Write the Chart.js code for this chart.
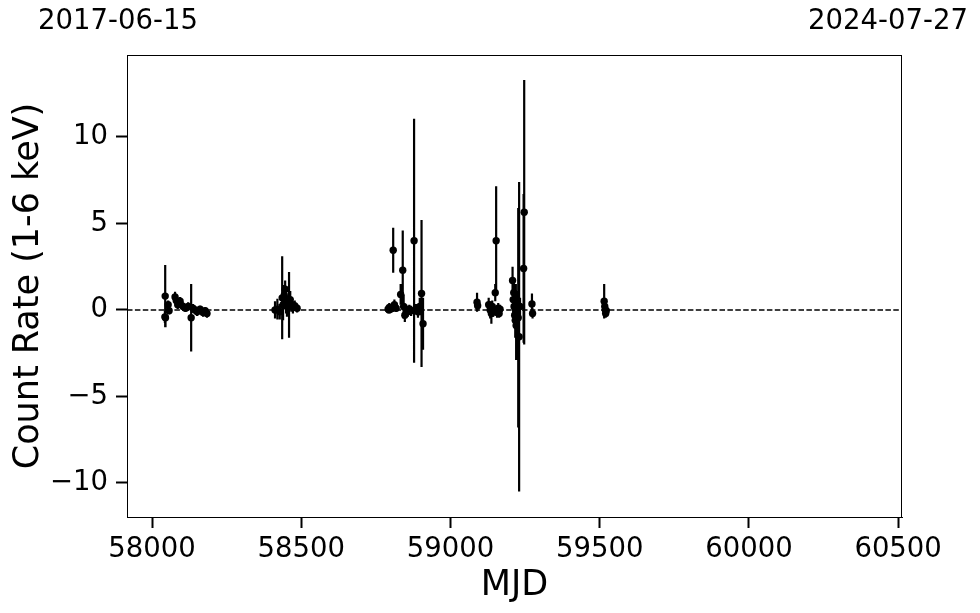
<!DOCTYPE html>
<html>
<head>
<meta charset="utf-8">
<script src="https://cdn.jsdelivr.net/npm/chart.js@4"></script>
<style>body{margin:0;background:#fff}</style>
</head>
<body>
<canvas id="myChart" width="980" height="613"></canvas>
<script>
// observation epochs (MJD), count rates and 1-sigma errors
const mjd = [
  58043, 58044, 58045, 58054, 58057, 58077, 58081, 58086, 58094, 58104, 58112, 58121, 58131,
  58137, 58144, 58151, 58161, 58171, 58178, 58184,
  58412, 58420, 58428, 58436, 58439, 58443, 58446, 58449, 58452, 58459, 58463, 58467, 58472, 58478, 58486,
  58791, 58794, 58795, 58800, 58805, 58808, 58812, 58818, 58833, 58840, 58843, 58847, 58852, 58857,
  58862, 58868, 58878, 58884, 58891, 58897, 58903, 58908,
  59089, 59091, 59128, 59133, 59137, 59140, 59143, 59146, 59150, 59153, 59156, 59160, 59163, 59166,
  59208, 59210, 59212, 59213, 59215, 59217, 59219, 59220, 59222, 59224, 59227, 59230, 59233, 59245, 59247,
  59273, 59275,
  59515, 59517, 59519, 59520, 59522
];
const rate = [
  -0.40, 0.80, -0.45, 0.30, -0.05, 0.75, 0.55, 0.30, 0.50, 0.20, 0.10, 0.20, -0.45,
  0.10, 0.00, -0.10, 0.05, -0.15, -0.05, -0.20,
  0.00, 0.05, -0.10, 0.70, 0.30, 0.85, 1.20, 0.50, 0.20, 0.30, 0.60, 0.30, 0.15, 0.25, 0.10,
  0.05, 0.00, 0.15, 0.05, 0.10, 3.45, 0.30, 0.10, 0.90, 2.30, 0.20, -0.30, 0.00, -0.10,
  0.05, -0.05, 4.00, 0.05, -0.10, 0.20, 0.95, -0.80,
  0.45, 0.25, 0.30, 0.00, -0.20, 0.20, -0.10, 0.00, 1.00, 4.00, -0.15, 0.10, -0.20, 0.05,
  1.70, 0.60, 1.00, 0.20, -0.30, -0.60, 0.00, -0.90, 0.40, -0.20, -0.45, -1.55, 0.20, 2.40, 5.65,
  0.35, -0.20,
  0.50, 0.20, 0.00, -0.20, -0.05
];
const rateErr = [
  0.35, 1.80, 0.55, 0.25, 0.20, 0.30, 0.30, 0.25, 0.25, 0.25, 0.20, 0.25, 1.95,
  0.25, 0.20, 0.25, 0.20, 0.25, 0.20, 0.25,
  0.50, 0.60, 0.45, 2.40, 0.90, 0.60, 0.50, 0.70, 0.60, 1.90, 0.50, 0.40, 0.35, 0.30, 0.25,
  0.15, 0.15, 0.25, 0.15, 0.20, 1.30, 0.30, 0.20, 0.60, 2.30, 0.70, 0.40, 0.30, 0.30,
  0.25, 0.30, 7.05, 0.30, 0.35, 0.50, 4.25, 1.50,
  0.55, 0.30, 0.40, 0.50, 0.60, 0.35, 0.30, 0.25, 0.50, 3.15, 0.30, 0.30, 0.25, 0.25,
  0.80, 1.00, 0.60, 0.90, 0.70, 1.00, 1.50, 2.00, 0.50, 0.60, 6.35, 8.95, 0.50, 4.30, 7.65,
  0.60, 0.30,
  1.00, 0.35, 0.30, 0.25, 0.30
];

const xTicks = [58000, 58500, 59000, 59500, 60000, 60500];
const yTicks = [-10, -5, 0, 5, 10];
const xRange = [57916, 60513];
const yRange = [-11.97, 14.74];
const dateLabels = ["2017-06-15", "2024-07-27"];

const canvas = document.getElementById("myChart");
const ctx = canvas.getContext("2d");
Chart.defaults.font.family = "'DejaVu Sans', sans-serif";
Chart.defaults.color = "#000";

const points = mjd.map((m, i) => ({ x: m, y: rate[i] }));

const errorBars = {
  id: "errorBars",
  beforeDatasetsDraw(chart) {
    const { ctx, chartArea, scales: { x, y } } = chart;
    ctx.save();
    ctx.beginPath();
    ctx.rect(chartArea.left, chartArea.top, chartArea.right - chartArea.left, chartArea.bottom - chartArea.top);
    ctx.clip();
    ctx.strokeStyle = "#000";
    ctx.lineWidth = 2.2;
    ctx.beginPath();
    mjd.forEach((m, i) => {
      const px = x.getPixelForValue(m);
      ctx.moveTo(px, y.getPixelForValue(rate[i] + rateErr[i]));
      ctx.lineTo(px, y.getPixelForValue(rate[i] - rateErr[i]));
    });
    ctx.stroke();
    ctx.restore();
  }
};

const frameAndDates = {
  id: "frameAndDates",
  afterDraw(chart) {
    const { ctx, chartArea } = chart;
    ctx.save();
    ctx.strokeStyle = "#000";
    ctx.lineWidth = 1;
    ctx.strokeRect(chartArea.left + 0.5, chartArea.top + 0.5,
      chartArea.right - chartArea.left - 1, chartArea.bottom - chartArea.top);
    ctx.fillStyle = "#000";
    ctx.font = "27.5px 'DejaVu Sans'";
    ctx.textAlign = "center";
    ctx.textBaseline = "middle";
    ctx.fillText(dateLabels[0], chartArea.left - 9, 22);
    ctx.fillText(dateLabels[1], chartArea.right - 14, 22);
    ctx.restore();
  }
};

const axisStyle = {
  grid: { drawOnChartArea: false, drawTicks: true, tickLength: 11, tickWidth: 2, tickColor: "#000" },
  border: { display: true, color: "#000", width: 1 }
};

new Chart(ctx, {
  type: "scatter",
  data: {
    datasets: [
      {
        data: points,
        backgroundColor: "#000",
        borderColor: "#000",
        borderWidth: 0,
        pointRadius: 3.7
      },
      {
        type: "line",
        data: [{ x: xRange[0], y: 0 }, { x: xRange[1], y: 0 }],
        borderColor: "#000",
        borderWidth: 1.5,
        borderDash: [5.5, 2.4],
        pointRadius: 0,
        fill: false
      }
    ]
  },
  options: {
    responsive: false,
    animation: false,
    devicePixelRatio: 1,
    layout: { padding: { top: 55, right: 78, left: 0, bottom: 0 } },
    plugins: { legend: { display: false }, tooltip: { enabled: false } },
    scales: {
      x: {
        type: "linear",
        min: xRange[0],
        max: xRange[1],
        afterFit: s => { s.height = 96; },
        afterBuildTicks: s => { s.ticks = xTicks.map(v => ({ value: v })); },
        ticks: { font: { size: 27.5 }, color: "#000", padding: 5, maxRotation: 0, autoSkip: false,
          callback: v => String(v) },
        ...axisStyle,
        title: { display: true, text: "MJD", color: "#000", font: { size: 35 }, padding: { top: 0, bottom: 6 } }
      },
      y: {
        type: "linear",
        min: yRange[0],
        max: yRange[1],
        afterFit: s => { s.width = 127; },
        afterBuildTicks: s => { s.ticks = yTicks.map(v => ({ value: v })); },
        ticks: {
          font: { size: 27.5 }, color: "#000", padding: 8,
          callback: v => String(v).replace("-", "\u2212")
        },
        ...axisStyle,
        title: { display: true, text: "Count Rate (1-6 keV)", color: "#000", font: { size: 35 }, padding: { top: 8, bottom: 0 } }
      }
    }
  },
  plugins: [errorBars, frameAndDates]
});
</script>
</body>
</html>
